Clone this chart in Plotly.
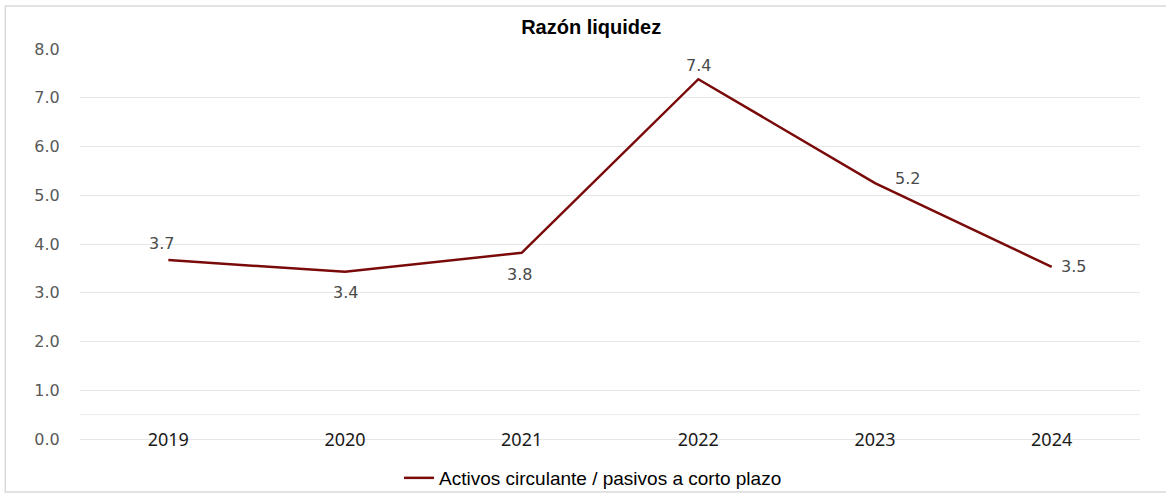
import plotly.graph_objects as go

# Razón de liquidez por año
years = ["2019", "2020", "2021", "2022", "2023", "2024"]
liquidez = [3.67, 3.43, 3.82, 7.38, 5.25, 3.53]
labels = ["3.7", "3.4", "3.8", "7.4", "5.2", "3.5"]
# desplazamiento de cada etiqueta respecto a su punto (px)
label_dx = [-7, 0, -2, 0, 32, 22]
label_dy = [17, -21, -22, 14, 5, 0]

fig = go.Figure()

fig.add_trace(go.Scatter(
    x=years,
    y=liquidez,
    mode="lines",
    name="Activos circulante / pasivos a corto plazo",
    line=dict(color="#7A0A0A", width=2.5),
))

# en un eje de categorías la posición de la anotación va por índice
for i, (val, txt, dx, dy) in enumerate(zip(liquidez, labels, label_dx, label_dy)):
    fig.add_annotation(
        x=i, y=val, text=txt, showarrow=False,
        xshift=dx, yshift=dy,
        font=dict(family="DejaVu Sans", size=16, color="#4a4a4a"),
    )

# marco exterior del gráfico
fig.add_shape(type="rect", xref="paper", yref="paper",
              x0=-0.0705, x1=1.05, y0=-0.136, y1=1.11,
              line=dict(color="#D9D9D9", width=1.5), fillcolor="rgba(0,0,0,0)", layer="below")
# línea auxiliar bajo el eje
fig.add_shape(type="line", xref="paper", yref="y",
              x0=0, x1=1, y0=0.5, y1=0.5,
              line=dict(color="#EBEBEB", width=1), layer="below")

fig.update_layout(
    width=1166,
    height=495,
    paper_bgcolor="white",
    plot_bgcolor="white",
    margin=dict(l=80, r=26, t=49, b=56, autoexpand=False),
    title=dict(
        text="<b>Razón liquidez</b>",
        x=0.507, xanchor="center",
        y=0.945, yanchor="middle",
        font=dict(family="Liberation Sans", size=20, color="#000000"),
    ),
    showlegend=True,
    legend=dict(
        orientation="h",
        x=0.484, xanchor="center",
        y=-0.1, yanchor="middle",
        font=dict(family="Liberation Sans", size=19, color="#000000"),
        itemwidth=30,
        bgcolor="rgba(0,0,0,0)",
    ),
    xaxis=dict(
        type="category",
        range=[-0.5, len(years) - 0.5],
        showgrid=False,
        showline=False,
        zeroline=False,
        ticks="",
        ticklabelstandoff=-12,
        tickfont=dict(family="Noto Sans", size=18, color="#1a1a1a"),
    ),
    yaxis=dict(
        range=[0, 8],
        dtick=1,
        tickformat=".1f",
        showgrid=True,
        gridcolor="#E6E6E6",
        gridwidth=1,
        zeroline=True,
        zerolinecolor="#E6E6E6",
        zerolinewidth=1,
        showline=False,
        ticks="outside",
        ticklen=16,
        tickcolor="rgba(0,0,0,0)",
        tickfont=dict(family="DejaVu Sans", size=16, color="#595959"),
    ),
)

fig.write_html("out.html", config={"displayModeBar": False},
               post_script="document.body.style.margin='0';")
